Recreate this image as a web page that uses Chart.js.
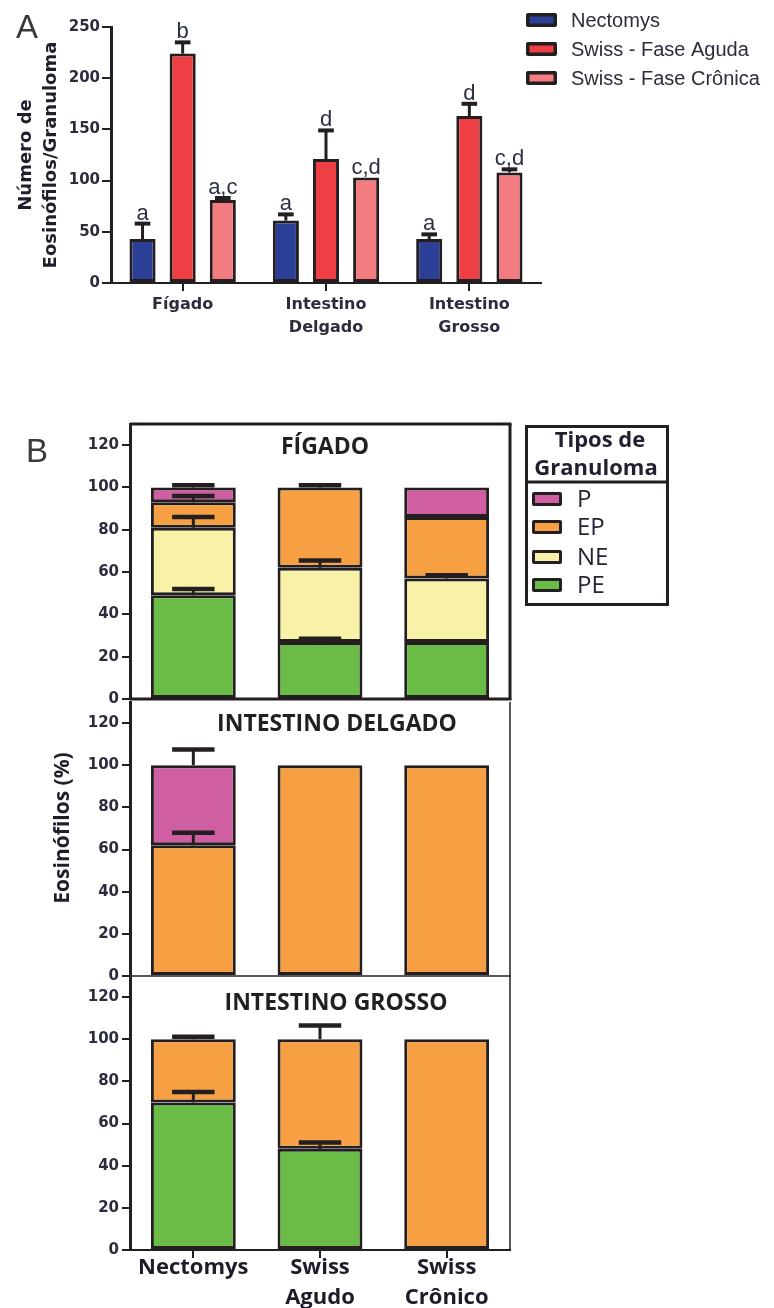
<!DOCTYPE html>
<html>
<head>
<meta charset="utf-8">
<script src="https://cdn.jsdelivr.net/npm/chart.js@4.4.0/dist/chart.umd.min.js"></script>
<style>
  html, body { margin: 0; padding: 0; background: #fff; }
  #pagina { position: relative; width: 774px; height: 1308px; overflow: hidden; background: #fff; }
  #pagina canvas { position: absolute; left: 0; }
</style>
</head>
<body>
<div id="pagina">
  <canvas id="graficoA" width="774" height="360" style="top:0px"></canvas>
  <canvas id="figado" width="774" height="320" style="top:400px"></canvas>
  <canvas id="delgado" width="774" height="310" style="top:690px"></canvas>
  <canvas id="grosso" width="774" height="348" style="top:960px"></canvas>
</div>
<script>
// ---------- Painel A: número de eosinófilos por granuloma ----------
const orgaos = [['Fígado'], ['Intestino', 'Delgado'], ['Intestino', 'Grosso']];
const ticksA = [0, 50, 100, 150, 200, 250];

const nectomysMedia = [43, 61, 43];
const nectomysErro = [15, 6, 4.5];
const nectomysLetras = ['a', 'a', 'a'];

const agudaMedia = [224, 121, 163];
const agudaErro = [11, 28, 12];
const agudaLetras = ['b', 'd', 'd'];

const cronicaMedia = [81, 103, 108];
const cronicaErro = [2, null, 3];
const cronicaLetras = ['a,c', 'c,d', 'c,d'];

// ---------- Painel B: tipos de granuloma (% de eosinófilos) ----------
const grupos = [['Nectomys'], ['Swiss', 'Agudo'], ['Swiss', 'Crônico']];
const ticksB = [0, 20, 40, 60, 80, 100, 120];

const figadoPE = [49, 27, 27];
const figadoPEErro = [3, 1.5, null];
const figadoNE = [32, 35, 30];
const figadoNEErro = [5, 3.5, 1.5];
const figadoEP = [12, 38, 29];
const figadoEPErro = [3, 1, null];
const figadoP = [7, null, 14];
const figadoPErro = [1, null, null];

const delgadoPE = [null, null, null];
const delgadoNE = [null, null, null];
const delgadoEP = [62, 100, 100];
const delgadoEPErro = [6, null, null];
const delgadoP = [38, null, null];
const delgadoPErro = [7.5, null, null];

const grossoPE = [70, 48, null];
const grossoPEErro = [5, 3, null];
const grossoNE = [null, null, null];
const grossoEP = [30, 52, 100];
const grossoEPErro = [1.2, 6.5, null];
const grossoP = [null, null, null];

const contorno = '#231f20';
const corTexto = '#2b2d3d';
const cores = { nectomys: '#2c3f97', aguda: '#ee3f45', cronica: '#f37c80',
                P: '#cf5ea2', EP: '#f6a043', NE: '#f8f2a8', PE: '#6bbc46' };

// barras de erro (apenas o lado superior), desenhadas no topo de cada segmento
const barrasDeErro = {
  id: 'barrasDeErro',
  afterDatasetsDraw(chart, args, o) {
    const { ctx } = chart;
    const y = chart.scales.y;
    ctx.save();
    ctx.strokeStyle = contorno;
    ctx.lineCap = 'butt';
    chart.data.datasets.forEach((ds, i) => {
      if (!ds.erros) return;
      chart.getDatasetMeta(i).data.forEach((barra, j) => {
        const e = ds.erros[j];
        if (!e || ds.data[j] == null) return;
        const topo = y.getValueForPixel(barra.y);
        const yCap = y.getPixelForValue(topo + e);
        const meia = barra.width * o.fracao / 2;
        ctx.lineWidth = o.haste;
        ctx.beginPath();
        ctx.moveTo(barra.x, barra.y);
        ctx.lineTo(barra.x, yCap);
        ctx.stroke();
        ctx.lineWidth = o.cap;
        ctx.beginPath();
        ctx.moveTo(barra.x - meia, yCap);
        ctx.lineTo(barra.x + meia, yCap);
        ctx.stroke();
      });
    });
    ctx.restore();
  }
};

// letras de significância acima das barras
const letras = {
  id: 'letras',
  afterDatasetsDraw(chart) {
    const { ctx } = chart;
    const y = chart.scales.y;
    ctx.save();
    ctx.font = '22px "Liberation Sans", Arial, sans-serif';
    ctx.fillStyle = '#2a2f45';
    ctx.textAlign = 'center';
    ctx.textBaseline = 'alphabetic';
    chart.data.datasets.forEach((ds, i) => {
      chart.getDatasetMeta(i).data.forEach((barra, j) => {
        const e = ds.erros[j] || 0;
        const yTopo = y.getPixelForValue(ds.data[j] + e);
        ctx.fillText(ds.letras[j], barra.x, yTopo - 4);
      });
    });
    ctx.restore();
  }
};

// legenda do painel A e letra do painel
const legendaA = {
  id: 'legendaA',
  afterDraw(chart) {
    const { ctx } = chart;
    const linhas = [20, 49, 78];
    ctx.save();
    chart.data.datasets.forEach((ds, i) => {
      const yc = linhas[i];
      ctx.fillStyle = contorno;
      ctx.beginPath();
      ctx.roundRect(526, yc - 7, 31, 14, 2);
      ctx.fill();
      ctx.fillStyle = ds.backgroundColor;
      ctx.fillRect(529.5, yc - 3.5, 24, 7);
      ctx.fillStyle = corTexto;
      ctx.font = '20px "Liberation Sans", Arial, sans-serif';
      ctx.textBaseline = 'middle';
      ctx.textAlign = 'left';
      ctx.fillText(ds.label, 571, yc + 1);
    });
    ctx.fillStyle = '#3a3a3a';
    ctx.textBaseline = 'alphabetic';
    ctx.font = '33px "Liberation Sans", Arial, sans-serif';
    ctx.fillText('A', 16, 38);
    ctx.restore();
  }
};

const fonteEixoA = { family: '"DejaVu Sans", sans-serif', weight: 'bold' };

new Chart(document.getElementById('graficoA'), {
  type: 'bar',
  data: {
    labels: orgaos,
    datasets: [
      { label: 'Nectomys', data: nectomysMedia, erros: nectomysErro, letras: nectomysLetras, backgroundColor: cores.nectomys },
      { label: 'Swiss - Fase Aguda', data: agudaMedia, erros: agudaErro, letras: agudaLetras, backgroundColor: cores.aguda },
      { label: 'Swiss - Fase Crônica', data: cronicaMedia, erros: cronicaErro, letras: cronicaLetras, backgroundColor: cores.cronica }
    ]
  },
  options: {
    responsive: false,
    animation: false,
    devicePixelRatio: 1,
    layout: { padding: { top: 27, right: 233, bottom: 0, left: 0 } },
    datasets: { bar: { categoryPercentage: 0.84, barPercentage: 0.65, borderWidth: 3, borderColor: contorno, borderSkipped: false } },
    plugins: {
      legend: { display: false },
      tooltip: { enabled: false },
      barrasDeErro: { fracao: 0.6, haste: 3, cap: 4 }
    },
    scales: {
      x: {
        grid: { display: true, offset: false, drawOnChartArea: false, drawTicks: true, tickLength: 8, color: contorno, lineWidth: 2 },
        border: { color: contorno, width: 2 },
        ticks: { font: { ...fonteEixoA, size: 16, lineHeight: 1.4 }, color: corTexto, padding: 3, maxRotation: 0 },
        afterFit(s) { s.height = 77; }
      },
      y: {
        min: 0, max: 250,
        afterBuildTicks(s) { s.ticks = ticksA.map(v => ({ value: v })); },
        grid: { display: true, drawOnChartArea: false, drawTicks: true, tickLength: 9, color: contorno, lineWidth: 2 },
        border: { color: contorno, width: 3 },
        ticks: { font: { ...fonteEixoA, size: 15 }, color: corTexto, padding: 2 },
        title: { display: true, text: ['Número de', 'Eosinófilos/Granuloma'], color: '#1f1f2b',
                 font: { ...fonteEixoA, size: 18, lineHeight: 1.4 }, padding: { top: 14, bottom: 0 } },
        afterFit(s) { s.width = 111; }
      }
    }
  },
  plugins: [barrasDeErro, letras, legendaA]
});

// ---------- Painel B ----------
const moldura = {
  id: 'moldura',
  afterDraw(chart, args, o) {
    const { ctx, chartArea: a } = chart;
    ctx.save();
    ctx.strokeStyle = contorno;
    if (o.topo) { ctx.lineWidth = o.topo; ctx.beginPath(); ctx.moveTo(a.left, a.top); ctx.lineTo(a.right + o.direita / 2, a.top); ctx.stroke(); }
    if (o.direita) { ctx.lineWidth = o.direita; ctx.beginPath(); ctx.moveTo(a.right, a.top); ctx.lineTo(a.right, a.bottom); ctx.stroke(); }
    if (o.base) { ctx.lineWidth = o.base; ctx.beginPath(); ctx.moveTo(a.left, a.bottom); ctx.lineTo(a.right + o.direita / 2, a.bottom); ctx.stroke(); }
    ctx.restore();
  }
};

const textosPainel = {
  id: 'textosPainel',
  afterDraw(chart, args, o) {
    const { ctx } = chart;
    ctx.save();
    ctx.fillStyle = contorno;
    ctx.textAlign = 'center';
    ctx.textBaseline = 'alphabetic';
    ctx.font = 'bold 23px "Open Sans", sans-serif';
    ctx.fillText(o.titulo, o.x, o.y);
    if (o.letra) {
      ctx.fillStyle = '#3a3a3a';
      ctx.textAlign = 'left';
      ctx.font = '33px "Liberation Sans", Arial, sans-serif';
      ctx.fillText(o.letra, 26, 62);
    }
    if (o.rotuloY) {
      ctx.translate(63, o.rotuloY);
      ctx.rotate(-Math.PI / 2);
      ctx.textAlign = 'center';
      ctx.textBaseline = 'middle';
      ctx.fillStyle = '#1f1f2b';
      ctx.font = 'bold 21px "Open Sans", sans-serif';
      ctx.fillText('Eosinófilos (%)', 0, 0);
    }
    ctx.restore();
  }
};

// legenda "Tipos de Granuloma"
const legendaB = {
  id: 'legendaB',
  afterDraw(chart) {
    const { ctx } = chart;
    ctx.save();
    ctx.strokeStyle = contorno;
    ctx.lineWidth = 3;
    ctx.strokeRect(526.5, 26.5, 141, 178);
    ctx.beginPath(); ctx.moveTo(526, 82); ctx.lineTo(668, 82); ctx.stroke();
    ctx.fillStyle = '#231f30';
    ctx.textAlign = 'center';
    ctx.textBaseline = 'middle';
    ctx.font = 'bold 22px "Open Sans", sans-serif';
    ctx.fillText('Tipos de', 600, 41);
    ctx.fillText('Granuloma', 596, 69);
    const linhas = [99, 127, 157, 185];
    const ordem = chart.data.datasets.slice().reverse();
    ordem.forEach((ds, i) => {
      const yc = linhas[i];
      ctx.fillStyle = contorno;
      ctx.beginPath(); ctx.roundRect(532, yc - 7, 30, 14, 2); ctx.fill();
      ctx.fillStyle = ds.backgroundColor;
      ctx.fillRect(535, yc - 4, 24, 8);
      ctx.fillStyle = '#2b2238';
      ctx.textAlign = 'left';
      ctx.font = '24px "Open Sans", sans-serif';
      ctx.fillText(ds.label, 577, yc + 1);
    });
    ctx.restore();
  }
};

function conjuntos(pe, peErro, ne, neErro, ep, epErro, p, pErro) {
  return [
    { label: 'PE', data: pe, erros: peErro, backgroundColor: cores.PE },
    { label: 'NE', data: ne, erros: neErro, backgroundColor: cores.NE },
    { label: 'EP', data: ep, erros: epErro, backgroundColor: cores.EP },
    { label: 'P', data: p, erros: pErro, backgroundColor: cores.P }
  ];
}

function painelB(id, datasets, cfg) {
  return new Chart(document.getElementById(id), {
    type: 'bar',
    data: { labels: grupos, datasets },
    options: {
      responsive: false,
      animation: false,
      devicePixelRatio: 1,
      layout: { padding: { top: cfg.topo, right: 264, bottom: cfg.base, left: 0 } },
      datasets: { bar: { categoryPercentage: 1, barPercentage: 0.67, borderWidth: 3, borderColor: contorno, borderSkipped: false } },
      plugins: {
        legend: { display: false },
        tooltip: { enabled: false },
        barrasDeErro: { fracao: 0.5, haste: 3, cap: 4.5 },
        moldura: cfg.moldura,
        textosPainel: cfg.textos
      },
      scales: {
        x: {
          stacked: true,
          display: cfg.eixoX,
          grid: { display: true, offset: false, drawOnChartArea: false, drawTicks: true, tickLength: 8, color: contorno, lineWidth: 2 },
          border: { color: contorno, width: 2 },
          ticks: { font: { family: '"Open Sans", sans-serif', weight: 'bold', size: 22, lineHeight: 1.36 }, color: '#1c1c2a', padding: -5, maxRotation: 0 },
          afterFit(s) { if (s.options.display) s.height = 58; }
        },
        y: {
          stacked: true,
          min: 0, max: 130,
          afterBuildTicks(s) { s.ticks = ticksB.map(v => ({ value: v })); },
          grid: { display: true, drawOnChartArea: false, drawTicks: true, tickLength: 8, color: contorno, lineWidth: 2 },
          border: { color: contorno, width: 3 },
          ticks: { font: { family: '"DejaVu Sans", sans-serif', weight: 'bold', size: 15 }, color: corTexto, padding: 3 },
          afterFit(s) { s.width = 130; }
        }
      }
    },
    plugins: cfg.plugins
  });
}

painelB('figado',
  conjuntos(figadoPE, figadoPEErro, figadoNE, figadoNEErro, figadoEP, figadoEPErro, figadoP, figadoPErro),
  { topo: 24, base: 21, eixoX: false,
    moldura: { topo: 3, direita: 3, base: 3 },
    textos: { titulo: 'FÍGADO', x: 325, y: 54, letra: 'B' },
    plugins: [barrasDeErro, moldura, textosPainel, legendaB] });

painelB('delgado',
  conjuntos(delgadoPE, null, delgadoNE, null, delgadoEP, delgadoEPErro, delgadoP, delgadoPErro),
  { topo: 11, base: 24, eixoX: false,
    moldura: { topo: 0, direita: 1.5, base: 1.5 },
    textos: { titulo: 'INTESTINO DELGADO', x: 337, y: 41, rotuloY: 138 },
    plugins: [barrasDeErro, moldura, textosPainel] });

painelB('grosso',
  conjuntos(grossoPE, grossoPEErro, grossoNE, null, grossoEP, grossoEPErro, grossoP, null),
  { topo: 16, base: 0, eixoX: true,
    moldura: { topo: 0, direita: 1.5, base: 0 },
    textos: { titulo: 'INTESTINO GROSSO', x: 336, y: 50 },
    plugins: [barrasDeErro, moldura, textosPainel] });
</script>
</body>
</html>
